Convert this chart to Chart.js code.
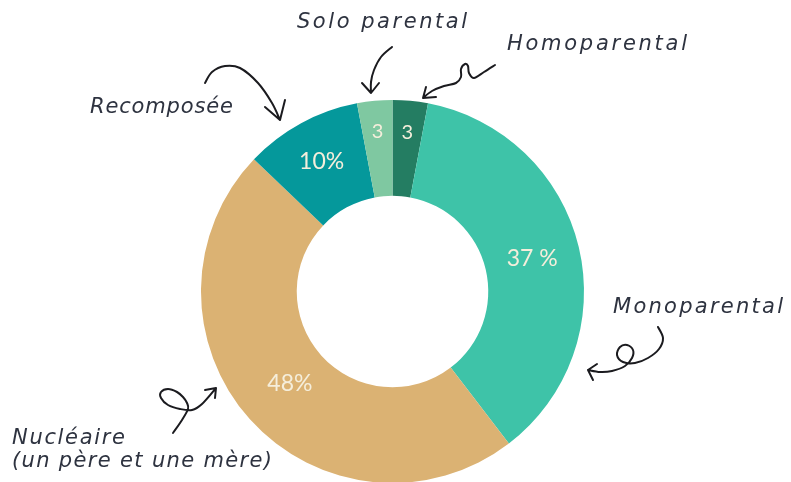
<!DOCTYPE html>
<html lang="fr">
<head>
<meta charset="utf-8">
<script src="https://cdn.jsdelivr.net/npm/chart.js@4"></script>
<style>
  html, body { margin: 0; padding: 0; background: #fff; overflow: hidden; }
  #wrap { width: 791px; height: 484px; }
</style>
</head>
<body>
<div id="wrap"><canvas id="famChart"></canvas></div>
<script>
// données
const categories = ['Homoparental', 'Monoparental', 'Nucléaire (un père et une mère)', 'Recomposée', 'Solo parental'];
const values = [3, 37, 48, 10, 3];
const valueLabels = ['3', '37 %', '48%', '10%', '3'];
const sliceColors = ['#247d62', '#3ec3a8', '#dbb273', '#05989b', '#7fc8a1'];

// position des étiquettes dans l'anneau (fraction du rayon extérieur)
const labelRadius = [0.835, 0.75, 0.72, 0.775, 0.84];
const labelSize = [20, 23, 23, 23, 20];

// textes annotés + flèches dessinées à la main
const callouts = [
  { lines: ['Solo parental'], x: 297, y: 28, w: 170 },
  { lines: ['Homoparental'], x: 507, y: 50, w: 180 },
  { lines: ['Recomposée'], x: 90, y: 113, w: 143 },
  { lines: ['Monoparental'], x: 613, y: 313, w: 170 },
  { lines: ['Nucléaire', '(un père et une mère)'], x: 12, y: 444, w: [113, 260] }
];

const arrows = [
  { pts: [[392,47],[381,57],[374,70],[371,82],[371,93]], wings: [[362,83],[379,83]] },
  { pts: [[495,65],[484,72],[474,78],[469,73],[468,66],[465,64],[461,69],[461,77],[456,83],[444,86],[432,91],[423,98]], wings: [[426,87],[436,97]] },
  { pts: [[205,83],[212,72],[225,66],[240,68],[258,83],[272,103],[280,120]], wings: [[265,107],[285,100]] },
  { pts: [[658,327],[663,338],[659,349],[648,358],[635,363],[623,362],[617,355],[620,347],[627,345],[633,350],[632,358],[625,366],[612,371],[600,372],[588,370]], wings: [[597,364],[593,380]] },
  { pts: [[173,433],[182,420],[188,409],[187,403],[183,397],[177,392],[168,389],[161,392],[161,398],[168,405],[180,409],[192,410],[202,404],[216,388]], wings: [[205,390],[215,398]] }
];

function smoothPath(ctx, pts) {
  // Catmull-Rom -> bézier
  ctx.moveTo(pts[0][0], pts[0][1]);
  for (let i = 0; i < pts.length - 1; i++) {
    const p0 = pts[i - 1] || pts[i];
    const p1 = pts[i];
    const p2 = pts[i + 1];
    const p3 = pts[i + 2] || p2;
    ctx.bezierCurveTo(
      p1[0] + (p2[0] - p0[0]) / 6, p1[1] + (p2[1] - p0[1]) / 6,
      p2[0] - (p3[0] - p1[0]) / 6, p2[1] - (p3[1] - p1[1]) / 6,
      p2[0], p2[1]
    );
  }
}

function fitText(ctx, text, x, y, width, size) {
  ctx.font = 'italic ' + size + 'px "DejaVu Sans"';
  ctx.letterSpacing = '0px';
  const w = ctx.measureText(text).width;
  const sp = (width - w) / Math.max(text.length - 1, 1);
  ctx.letterSpacing = sp.toFixed(2) + 'px';
  ctx.fillText(text, x, y);
  ctx.letterSpacing = '0px';
}

const annotations = {
  id: 'annotations',
  afterDatasetsDraw(chart) {
    const ctx = chart.ctx;
    const meta = chart.getDatasetMeta(0);
    ctx.save();
    // valeurs dans les parts
    ctx.fillStyle = '#f5eedb';
    ctx.textAlign = 'center';
    ctx.textBaseline = 'middle';
    meta.data.forEach((arc, i) => {
      const mid = (arc.startAngle + arc.endAngle) / 2;
      const r = arc.outerRadius * labelRadius[i];
      ctx.font = labelSize[i] + 'px Lato';
      ctx.fillText(valueLabels[i], arc.x + Math.cos(mid) * r, arc.y + Math.sin(mid) * r);
    });
    // noms des catégories
    ctx.fillStyle = '#2e3340';
    ctx.textAlign = 'left';
    ctx.textBaseline = 'alphabetic';
    callouts.forEach(c => {
      c.lines.forEach((t, j) => {
        const w = Array.isArray(c.w) ? c.w[j] : c.w;
        fitText(ctx, t, c.x, c.y + j * 23, w, 21);
      });
    });
    // flèches
    ctx.strokeStyle = '#1b1b1f';
    ctx.lineWidth = 2;
    ctx.lineCap = 'round';
    ctx.lineJoin = 'round';
    arrows.forEach(a => {
      ctx.beginPath();
      smoothPath(ctx, a.pts);
      const tip = a.pts[a.pts.length - 1];
      a.wings.forEach(wg => {
        ctx.moveTo(tip[0], tip[1]);
        ctx.lineTo(wg[0], wg[1]);
      });
      ctx.stroke();
    });
    ctx.restore();
  }
};

new Chart(document.getElementById('famChart'), {
  type: 'doughnut',
  data: {
    labels: categories,
    datasets: [{
      data: values,
      backgroundColor: sliceColors,
      borderWidth: 0
    }]
  },
  options: {
    responsive: true,
    maintainAspectRatio: false,
    animation: false,
    cutout: '50%',
    layout: { padding: { top: 100, bottom: 1, left: 201, right: 207 } },
    plugins: {
      legend: { display: false },
      tooltip: { enabled: false }
    }
  },
  plugins: [annotations]
});
</script>
</body>
</html>
